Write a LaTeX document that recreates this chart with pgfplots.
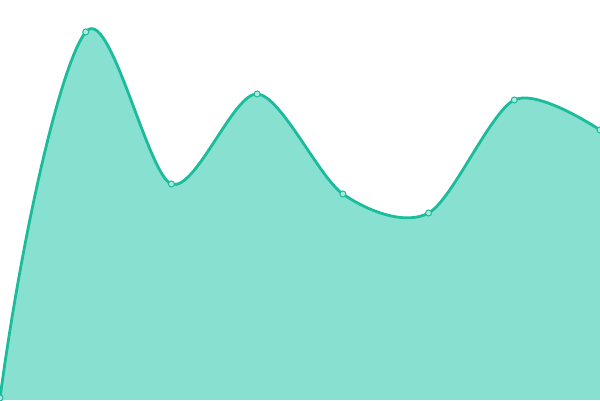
\documentclass[border=0pt]{standalone}
\usepackage{pgfplots}
\pgfplotsset{compat=1.18}
\definecolor{tealline}{HTML}{1ABC9C}
\definecolor{tealfill}{HTML}{88E0D0}
\begin{document}
\begin{tikzpicture}
  \begin{axis}[
      scale only axis,
      width=600pt, height=400pt,
      xmin=0, xmax=7,
      ymin=0, ymax=400,
      hide axis,
      clip=true,
    ]
    % the point at x=-1 lies outside the axis; it only sets the curve's
    % direction at the first visible point
    \addplot[draw=none, fill=tealfill, smooth, tension=0.5] coordinates {
      (-1,-900) (0,2) (1,368) (2,216) (3,306) (4,206) (5,187) (6,300) (7,270)
    } \closedcycle;
    \addplot[color=tealline, line width=2.8pt, smooth, tension=0.5] coordinates {
      (-1,-900) (0,2) (1,368) (2,216) (3,306) (4,206) (5,187) (6,300) (7,270)
    };
    \addplot[only marks, mark=*, mark size=3pt,
      mark options={fill=tealfill!70!white, draw=tealline, line width=1pt}] coordinates {
      (0,2) (1,368) (2,216) (3,306) (4,206) (5,187) (6,300) (7,270)
    };
  \end{axis}
  \pgfresetboundingbox
  \useasboundingbox (current axis.south west) rectangle (current axis.north east);
\end{tikzpicture}
\end{document}
